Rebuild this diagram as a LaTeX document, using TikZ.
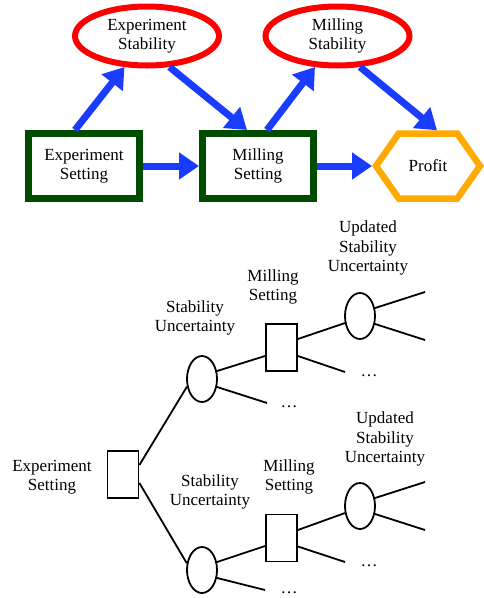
\documentclass[tikz,border=0pt]{standalone}
\usepackage{fontspec}
\setmainfont{Liberation Serif}
\usepackage{tikz}
\usetikzlibrary{arrows.meta, shapes.geometric, shapes.symbols, positioning}

\definecolor{flowblue}{RGB}{25,60,255}
\definecolor{stabred}{RGB}{255,0,0}
\definecolor{setgreen}{RGB}{0,77,0}
\definecolor{profitorange}{RGB}{255,170,0}

\begin{document}
\begin{tikzpicture}[x=1pt, y=-1pt,
        every node/.style={font=\fontsize{17}{19.5}\selectfont, align=center, inner sep=0pt},
        stab/.style={draw=stabred, ellipse, line width=6pt, minimum width=144pt, minimum height=59pt},
        setting/.style={draw=setgreen, rectangle, line width=7pt, minimum width=111pt, minimum height=65pt},
        profit/.style={draw=profitorange, signal, signal to=west and east, signal pointer angle=110,
            line width=6.5pt, minimum width=104pt, minimum height=65pt},
        flow/.style={draw=flowblue, line width=7pt, -{Triangle[length=20pt, width=26pt]}},
        chance/.style={draw, ellipse, line width=1.8pt, minimum width=30pt, minimum height=46pt},
        decision/.style={draw, rectangle, line width=1.8pt, minimum width=31pt, minimum height=47pt},
        branch/.style={line width=1.8pt}]
    \useasboundingbox (0, 0) rectangle (483, 598);

    % influence diagram
    \node[stab] (expstab) at (147, 36) {Experiment\\Stability};
    \node[stab] (millstab) at (337.5, 36) {Milling\\Stability};
    \node[setting] (expset) at (84, 166) {Experiment\\Setting};
    \node[setting] (millset) at (258, 166) {Milling\\Setting};
    \node[profit] (profit) at (428, 166) {Profit};

    \draw[flow] ([xshift=-9pt]expset.north) -- (expstab.234);
    \draw[flow] (expstab.306) -- ([xshift=-11pt]millset.north);
    \draw[flow] ([xshift=9pt]millset.north) -- (millstab.234);
    \draw[flow] (millstab.306) -- ([xshift=9pt]profit.north);
    \draw[flow] (expset.east) -- (millset.west);
    \draw[flow] (millset.east) -- (profit.west);

    % decision tree
    \node[decision] (root) at (123, 474.5) {};
    \node (rootlbl) at (52, 477) {Experiment\\Setting};

    \node[chance] (su1) at (202, 379) {};
    \node (su1lbl) at (195, 318) {Stability\\Uncertainty};
    \node[decision] (ms1) at (281.5, 347.5) {};
    \node (ms1lbl) at (273, 287) {Milling\\Setting};
    \node[chance] (us1) at (360, 316) {};
    \node (us1lbl) at (368, 248) {Updated\\Stability\\Uncertainty};

    \node[chance] (su2) at (202, 570) {};
    \node (su2lbl) at (210, 492) {Stability\\Uncertainty};
    \node[decision] (ms2) at (281.5, 538) {};
    \node (ms2lbl) at (289, 477) {Milling\\Setting};
    \node[chance] (us2) at (360, 506) {};
    \node (us2lbl) at (385, 439) {Updated\\Stability\\Uncertainty};

    \node (dots1) at (369, 376) {…};
    \node (dots2) at (289, 407) {…};
    \node (dots3) at (369, 566) {…};
    \node (dots4) at (289, 593) {…};

    \coordinate (end1a) at (425, 292);
    \coordinate (end1b) at (425, 340);
    \coordinate (end1c) at (345, 372);
    \coordinate (end1d) at (267, 403);
    \coordinate (end2a) at (425, 482);
    \coordinate (end2b) at (425, 530);
    \coordinate (end2c) at (345, 562);
    \coordinate (end2d) at (265, 590);

    \draw[branch]
    ([yshift=9.5pt]root.east) -- (su1.207)
    ([yshift=-8.5pt]root.east) -- (su2.156)
    (su1.28) -- ([yshift=-8.5pt]ms1.west)
    (su1.-28) -- (end1d)
    ([yshift=8.5pt]ms1.east) -- (us1.205)
    ([yshift=-8.5pt]ms1.east) -- (end1c)
    (us1.28) -- (end1a)
    (us1.-28) -- (end1b)
    (su2.28) -- ([yshift=-8pt]ms2.west)
    (su2.-28) -- (end2d)
    ([yshift=8pt]ms2.east) -- (us2.205)
    ([yshift=-8.5pt]ms2.east) -- (end2c)
    (us2.28) -- (end2a)
    (us2.-28) -- (end2b);
\end{tikzpicture}
\end{document}
